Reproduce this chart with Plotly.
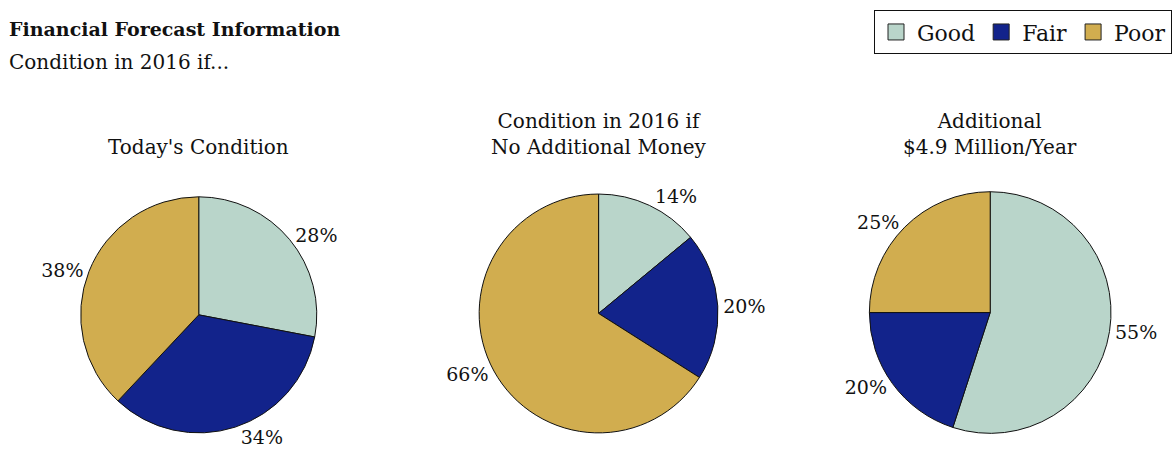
import plotly.graph_objects as go

conditions = ["Good", "Fair", "Poor"]
colors = ["#b9d5ca", "#12238b", "#d1ad4f"]

pie_titles = ["Today's Condition", "Condition in 2016 if<br>No Additional Money", "Additional<br>$4.9 Million/Year"]
today = [28, 34, 38]
no_money = [14, 20, 66]
additional = [55, 20, 25]

FONT = "DejaVu Serif, Liberation Serif, serif"

fig = go.Figure()

# legend entries (bigger squares than the pie legend gives)
for name, col in zip(conditions, colors):
    fig.add_trace(go.Scatter(
        x=[None], y=[None], mode="markers", name=name,
        marker=dict(symbol="square", size=18, color=col, line=dict(color="#222222", width=1)),
        showlegend=True,
    ))

series = [today, no_money, additional]
centers = [0.169, 0.509, 0.842]
heights = [[0.063, 0.574], [0.063, 0.580], [0.062, 0.585]]
for i, vals in enumerate(series):
    cx = centers[i]
    fig.add_trace(go.Pie(
        labels=conditions,
        values=vals,
        sort=False,
        direction="clockwise",
        rotation=0,
        marker=dict(colors=colors, line=dict(color="#111111", width=1)),
        textinfo="percent",
        texttemplate="%{value}%",
        textposition="outside",
        textfont=dict(family=FONT, size=19, color="#111111"),
        showlegend=False,
        domain=dict(x=[max(0, cx - 0.155), min(1, cx + 0.155)], y=heights[i]),
        hoverinfo="label+percent",
    ))
    fig.add_annotation(
        x=cx, y=0.652, xref="paper", yref="paper",
        text=pie_titles[i], showarrow=False,
        xanchor="center", yanchor="bottom",
        font=dict(family=FONT, size=20, color="#111111"),
    )

fig.add_annotation(
    x=0.006, y=0.937, xref="paper", yref="paper",
    text="<b>Financial Forecast Information</b>", showarrow=False,
    xanchor="left", yanchor="middle",
    font=dict(family=FONT, size=19, color="#111111"),
)
fig.add_annotation(
    x=0.006, y=0.866, xref="paper", yref="paper",
    text="Condition in 2016 if...", showarrow=False,
    xanchor="left", yanchor="middle",
    font=dict(family=FONT, size=20, color="#111111"),
)

fig.update_xaxes(visible=False)
fig.update_yaxes(visible=False)

fig.update_layout(
    width=1176,
    height=462,
    margin=dict(l=0, r=0, t=0, b=0, autoexpand=False),
    paper_bgcolor="white",
    plot_bgcolor="white",
    font=dict(family=FONT, size=20, color="#111111"),
    legend=dict(
        orientation="h",
        x=0.9966, y=0.978, xanchor="right", yanchor="top",
        bordercolor="#111111", borderwidth=1,
        font=dict(family=FONT, size=22),
        itemwidth=32,
    ),
)

fig.write_html("out.html", config={"displayModeBar": False},
               post_script="document.body.style.margin='0';")
